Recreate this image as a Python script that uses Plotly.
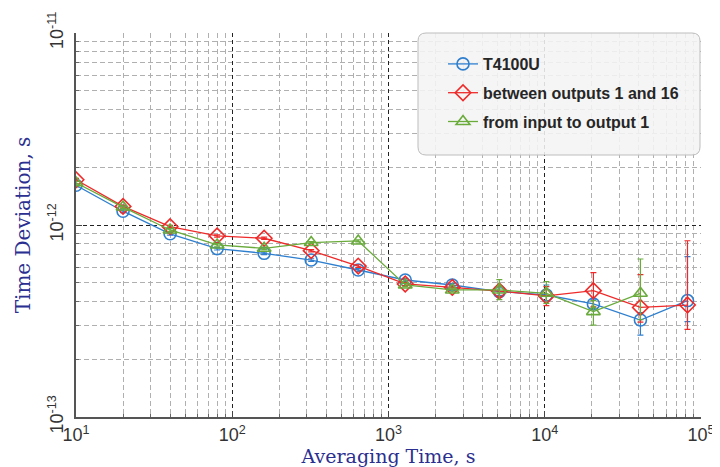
import plotly.graph_objects as go

# Averaging times (s)
tau = [10, 20, 40, 80, 160, 320, 640, 1280, 2560, 5120, 10240, 20480, 40960, 81920]

# Time deviation (s)
tdev_t4100u = [1.61e-12, 1.18e-12, 9.0e-13, 7.53e-13, 7.12e-13, 6.57e-13, 5.83e-13,
               5.17e-13, 4.87e-13, 4.5e-13, 4.32e-13, 3.88e-13, 3.20e-13, 4.04e-13]
tdev_out1_16 = [1.72e-12, 1.25e-12, 9.8e-13, 8.77e-13, 8.53e-13, 7.35e-13, 6.11e-13,
                4.93e-13, 4.73e-13, 4.53e-13, 4.27e-13, 4.55e-13, 3.72e-13, 3.83e-13]
tdev_in_out1 = [1.66e-12, 1.24e-12, 9.42e-13, 7.87e-13, 7.56e-13, 8.10e-13, 8.26e-13,
                4.87e-13, 4.59e-13, 4.59e-13, 4.41e-13, 3.54e-13, 4.41e-13]

# Error bars (upper / lower), s
err_t4100u_up = [3e-14, 2e-14, 1.5e-14, 1.2e-14, 1.1e-14, 1.0e-14, 1.0e-14,
                 1.0e-14, 1.0e-14, 2e-14, 5.5e-14, 2e-14, 3e-14, 2.8e-13]
err_t4100u_dn = [3e-14, 2e-14, 1.5e-14, 1.2e-14, 1.1e-14, 1.0e-14, 1.0e-14,
                 1.0e-14, 1.0e-14, 2e-14, 3e-14, 2e-14, 5.3e-14, 9e-14]
err_out1_16_up = [3e-14, 2e-14, 1.5e-14, 1.2e-14, 1.1e-14, 1.0e-14, 1.0e-14,
                  1.0e-14, 1.0e-14, 3e-14, 5e-14, 1.1e-13, 1.8e-13, 4.45e-13]
err_out1_16_dn = [3e-14, 2e-14, 1.5e-14, 1.2e-14, 1.1e-14, 1.0e-14, 1.0e-14,
                  1.0e-14, 1.0e-14, 3e-14, 4.7e-14, 8e-14, 6e-14, 9.7e-14]
err_in_out1_up = [3e-14, 2e-14, 1.5e-14, 1.2e-14, 1.1e-14, 1.0e-14, 1.0e-14,
                  1.0e-14, 1.0e-14, 6e-14, 6.6e-14, 5e-14, 2.24e-13]
err_in_out1_dn = [3e-14, 2e-14, 1.5e-14, 1.2e-14, 1.1e-14, 1.0e-14, 1.0e-14,
                  1.0e-14, 1.0e-14, 5e-14, 5e-14, 5.3e-14, 1.2e-13]

series_names = ["T4100U", "between outputs 1 and 16", "from input to output 1"]
x_tick_vals = [1e1, 1e2, 1e3, 1e4, 1e5]
x_tick_text = ["10<sup>1</sup>", "10<sup>2</sup>", "10<sup>3</sup>", "10<sup>4</sup>", "10<sup>5</sup>"]
y_tick_vals = [1e-13, 1e-12, 1e-11]
y_tick_text = ["10<sup>-13</sup>", "10<sup>-12</sup>", "10<sup>-11</sup>"]

BLUE = "#2f7fcf"
RED = "#ee2a2a"
GREEN = "#6aab3c"

x_minor = [m * 10 ** e for e in range(1, 5) for m in range(2, 10)]
y_minor = [m * 10.0 ** e for e in range(-13, -11) for m in range(2, 10)]

fig = go.Figure()

def add(name, x, y, up, dn, color, symbol, group):
    fig.add_trace(go.Scatter(
        x=x, y=y, name=name, mode="lines+markers", legendgroup=group,
        line=dict(color=color, width=1.3),
        marker=dict(symbol=symbol, size=12, color=color,
                    line=dict(color=color, width=1.6)),
        error_y=dict(type="data", array=up, arrayminus=dn, color=color,
                     thickness=1.2, width=3),
    ))

add(series_names[0], tau, tdev_t4100u, err_t4100u_up, err_t4100u_dn, BLUE, "circle-open", "a")
add(series_names[1], tau, tdev_out1_16, err_out1_16_up, err_out1_16_dn, RED, "diamond-open", "b")
add(series_names[2], tau[:len(tdev_in_out1)], tdev_in_out1, err_in_out1_up, err_in_out1_dn, GREEN, "triangle-up-open", "c")

# page body adds an 8px offset; plot area on screen: x 76..701, y 33..417
L, R, T, B = 68, 27, 25, 58
PW, PH = 625, 384

def px(xp):
    return (xp - 76) / PW

def py(yp):
    return (417 - yp) / PH

# rounded legend box
x0, x1, y0, y1, r = px(418), px(700), py(33), py(155), 8
rx, ry = r / PW, r / PH
path = (f"M {x0+rx},{y0} L {x1-rx},{y0} Q {x1},{y0} {x1},{y0-ry} "
        f"L {x1},{y1+ry} Q {x1},{y1} {x1-rx},{y1} L {x0+rx},{y1} "
        f"Q {x0},{y1} {x0},{y1+ry} L {x0},{y0-ry} Q {x0},{y0} {x0+rx},{y0} Z")
fig.add_shape(type="path", path=path, xref="paper", yref="paper",
              fillcolor="rgba(244,244,244,0.88)", line=dict(color="#bdbdbd", width=1),
              layer="above")

DASH_MAJ = "4px,3px"
DASH_MIN = "5px,3px"

fig.update_layout(
    width=720, height=467,
    margin=dict(l=L, r=R, t=T, b=B),
    paper_bgcolor="white", plot_bgcolor="white",
    showlegend=True,
    legend=dict(x=px(443), y=py(47), xanchor="left", yanchor="top",
                bgcolor="rgba(0,0,0,0)", borderwidth=0,
                font=dict(family="Liberation Sans", size=16, color="#262626", weight="bold"),
                tracegroupgap=5, traceorder="grouped", itemwidth=30),
    xaxis=dict(
        type="log", range=[1, 5], automargin=False,
        tickmode="array", tickvals=x_tick_vals, ticktext=x_tick_text,
        tickfont=dict(family="Liberation Sans", size=18, color="#333"),
        ticklabelstandoff=1,
        showgrid=True, gridcolor="#222", griddash=DASH_MAJ, gridwidth=1,
        showline=True, linecolor="#555", linewidth=1.5, mirror=False,
        ticks="inside", ticklen=6, tickcolor="#444", zeroline=False,
        minor=dict(tickmode="array", tickvals=x_minor, showgrid=True,
                   gridcolor="#b0b0b0", griddash=DASH_MIN, gridwidth=1,
                   ticks="inside", ticklen=3, tickcolor="#666"),
        title=dict(text="Averaging Time, s", standoff=2,
                   font=dict(family="DejaVu Serif", size=19, color="#2b2f8f")),
    ),
    yaxis=dict(
        type="log", range=[-13, -11], automargin=False,
        tickmode="array", tickvals=y_tick_vals, ticktext=y_tick_text,
        tickangle=-90, ticklabelstandoff=4,
        tickfont=dict(family="Liberation Sans", size=18, color="#333"),
        showgrid=True, gridcolor="#222", griddash=DASH_MAJ, gridwidth=1,
        showline=True, linecolor="#555", linewidth=1.5, mirror=False,
        ticks="inside", ticklen=6, tickcolor="#444", zeroline=False,
        minor=dict(tickmode="array", tickvals=y_minor, showgrid=True,
                   gridcolor="#b0b0b0", griddash=DASH_MIN, gridwidth=1,
                   ticks="inside", ticklen=3, tickcolor="#666"),
        title=dict(text="Time Deviation, s", standoff=8,
                   font=dict(family="DejaVu Serif", size=20, color="#2b2f8f")),
    ),
)

fig.write_html("out.html")
